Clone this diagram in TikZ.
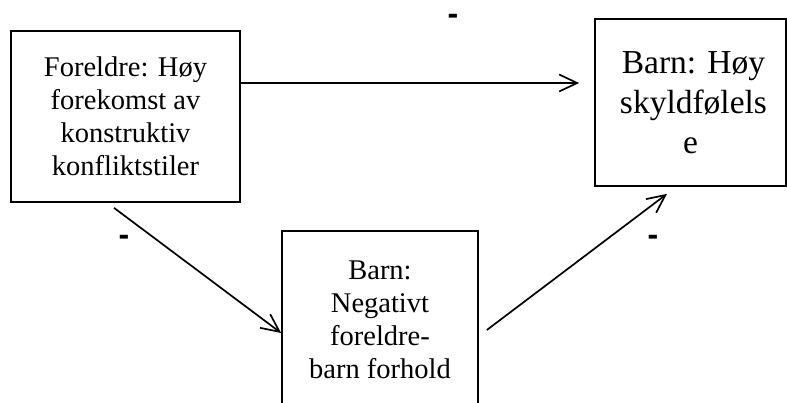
\documentclass[tikz,border=0pt]{standalone}
\usepackage{fontspec}
\setmainfont{Liberation Serif}
\setsansfont{Liberation Sans}
\usetikzlibrary{arrows.meta,calc}
\begin{document}
\begin{tikzpicture}[x=1pt,y=-1pt,
  box/.style={draw=black,line width=1.7pt,align=center,inner sep=0pt},
  smalltxt/.style={font=\fontsize{28.5}{33}\selectfont},
  bigtxt/.style={font=\fontsize{33.5}{40}\selectfont},
  arr/.style={line width=1.7pt,-{Straight Barb[length=18pt,width=17pt,line width=1.7pt]}},
  sign/.style={font=\fontsize{32}{36}\sffamily\bfseries,inner sep=0pt}]
\useasboundingbox (0,0) rectangle (787,403);
\clip (0,0) rectangle (787,403);
\node[box,smalltxt,minimum width=229pt,minimum height=171pt] (lb) at (125.5,116.5)
  {Foreldre: Høy\\forekomst av\\konstruktiv\\konfliktstiler};
\node[box,bigtxt,minimum width=191pt,minimum height=167pt] (rb) at (690.5,102.5)
  {\hspace*{6pt}Barn: Høy\\\hspace*{6pt}skyldfølels\\e};
\node[box,smalltxt,minimum width=196pt,minimum height=178pt] (bb) at (380,320)
  {Barn:\\Negativt\\foreldre-\\barn forhold};
\draw[arr] ([yshift=33.5pt]lb.east) -- ([xshift=-15pt,yshift=19.5pt]rb.west);
\draw[arr] ([xshift=-11.5pt,yshift=-5pt]lb.south) -- ([yshift=-13pt]bb.west);
\draw[arr] ([xshift=8pt,yshift=-10pt]bb.east) -- ([xshift=-23.5pt,yshift=-7pt]rb.south);
\node[sign] (s1) at (453,19) {-};
\node[sign] (s2) at (124,240) {-};
\node[sign] (s3) at (653,240) {-};
\end{tikzpicture}
\end{document}
